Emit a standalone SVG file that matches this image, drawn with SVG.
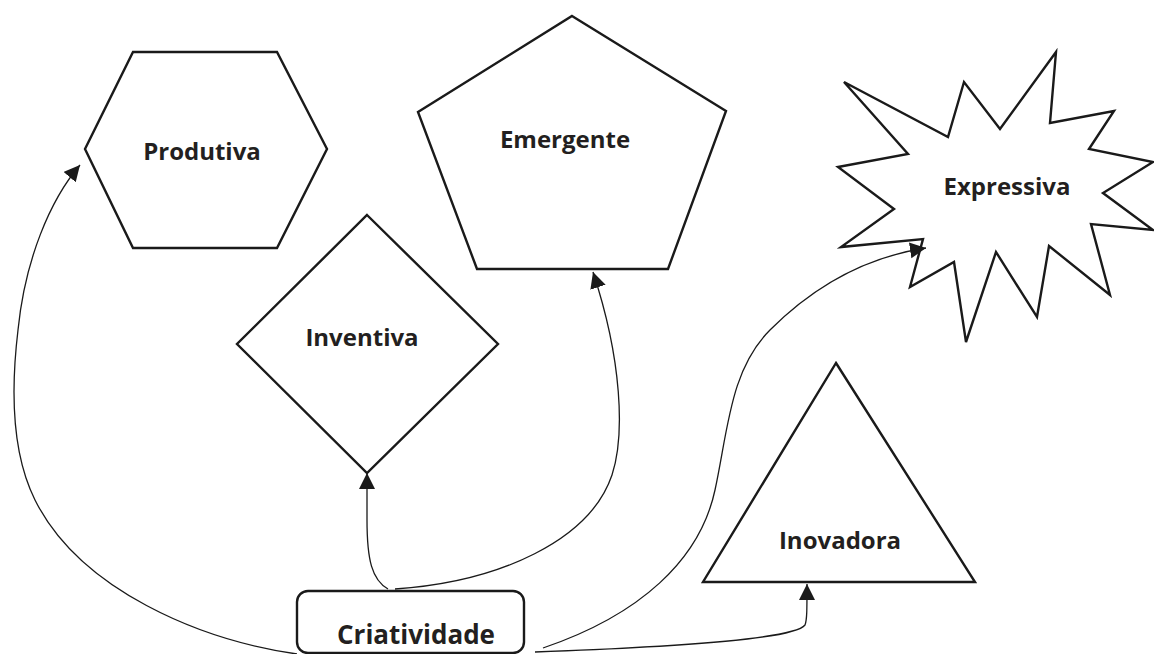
<svg xmlns="http://www.w3.org/2000/svg" width="1154" height="654" viewBox="0 0 1154 654">
<style>
.shape{fill:#fff;stroke:#1a1a1a;stroke-width:2.4;stroke-linejoin:miter}
.lbl{font-family:"Open Sans","Liberation Sans",sans-serif;font-weight:bold;font-size:24px;fill:#231f20;text-anchor:middle}
.big{font-size:26px}
.conn{fill:none;stroke:#1a1a1a;stroke-width:1.3}
</style>
<defs>
<marker id="arr" markerUnits="userSpaceOnUse" markerWidth="18" markerHeight="18" refX="16" refY="8" orient="auto">
<path d="M0,0 L16,8 L0,16 z" fill="#1a1a1a"/>
</marker>
</defs>
<rect width="1154" height="654" fill="#fff"/>
<g id="produtiva">
<polygon class="shape" points="133,52 277,52 327,149 277,248 133,248 85,149"/>
<text class="lbl" x="202" y="160">Produtiva</text>
</g>
<g id="emergente">
<polygon class="shape" points="572,16 726,111 668,269 477,269 418,112"/>
<text class="lbl" x="565" y="148">Emergente</text>
</g>
<g id="inventiva">
<polygon class="shape" points="367,215 498,344 367,473 237,344"/>
<text class="lbl" x="362" y="346">Inventiva</text>
</g>
<g id="expressiva">
<polygon class="shape" points="844,82 948,137 964,82 1000,129 1056,52 1050,123 1114,111 1089,149 1153,162 1103,193 1153,230 1091,224 1110,295 1049,246 1037,317 996,252 966,342 954,262 910,287 923,239 841,247 894,209 838,167 908,154"/>
<text class="lbl" x="1007" y="195">Expressiva</text>
</g>
<g id="inovadora">
<polygon class="shape" points="836,363 975,582 703,582"/>
<text class="lbl" x="840" y="549">Inovadora</text>
</g>
<g id="criatividade">
<rect class="shape" x="297" y="591" width="227" height="62" rx="11" ry="11"/>
<text class="lbl big" x="416" y="644">Criatividade</text>
</g>
<g id="connectors">
<path class="conn" marker-end="url(#arr)" d="M297,654 C200,640 80,590 35,500 C10,450 12,380 18,330 C25,260 50,200 80,165"/>
<path class="conn" marker-end="url(#arr)" d="M388,589 C372,580 367,560 367,520 L367,473"/>
<path class="conn" marker-end="url(#arr)" d="M395,589 C500,582 590,540 612,475 C625,435 622,360 593,272"/>
<path class="conn" marker-end="url(#arr)" d="M543,648 C640,615 700,560 715,490 C728,430 730,370 770,330 C810,290 860,258 926,248"/>
<path class="conn" marker-end="url(#arr)" d="M535,652 C700,646 795,638 805,625 C807,620 807,610 807,584"/>
</g>
</svg>
